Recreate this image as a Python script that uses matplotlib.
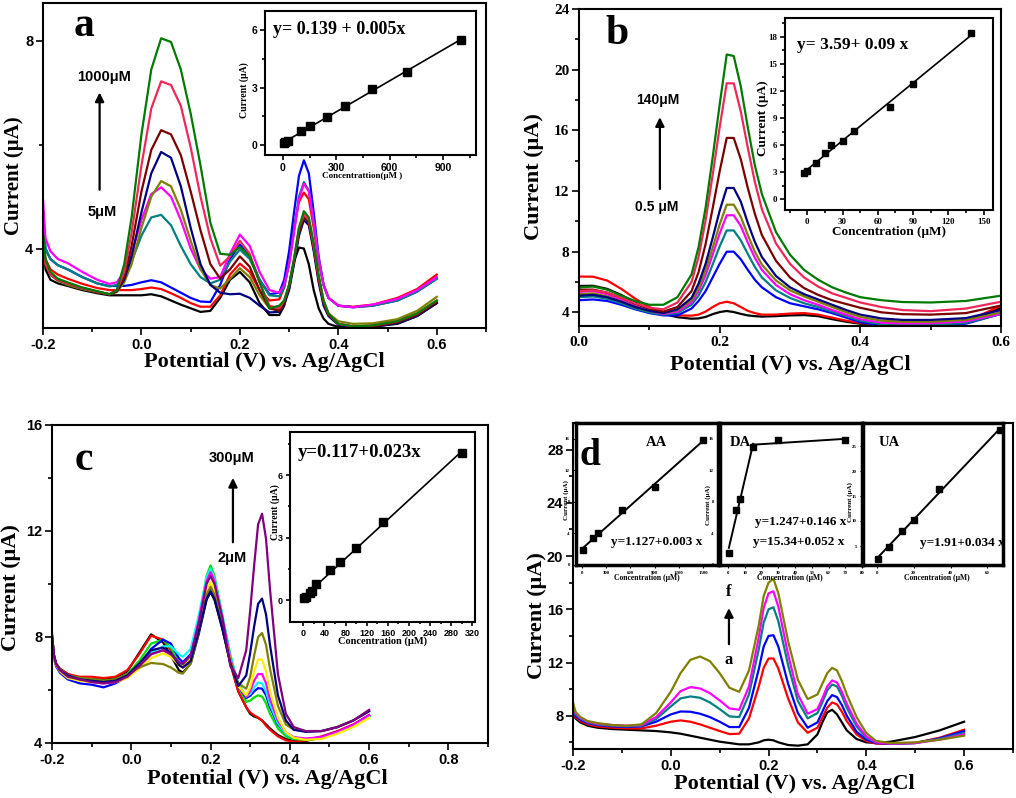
import numpy as np
import matplotlib
matplotlib.use("Agg")
import matplotlib.pyplot as plt

serif = "Liberation Serif"
sans = "Liberation Sans"

# ---------------- panel a : voltammograms ----------------
xa = [-0.2, -0.195, -0.185, -0.17, -0.15, -0.12, -0.09, -0.065, -0.05, -0.035, -0.02,
      0.0, 0.02, 0.04, 0.06, 0.08, 0.1, 0.12, 0.14, 0.16, 0.18, 0.2, 0.22, 0.24, 0.26,
      0.28, 0.29, 0.3, 0.31, 0.32, 0.33, 0.34, 0.35, 0.36, 0.37, 0.38, 0.4, 0.43, 0.47,
      0.52, 0.56, 0.6]
a_black = [4.4, 3.6, 3.4, 3.33, 3.28, 3.2, 3.14, 3.1, 3.1, 3.1, 3.1,
           3.1, 3.12, 3.08, 3.0, 2.92, 2.85, 2.78, 2.8, 3.05, 3.4, 3.55, 3.35, 2.95, 2.72,
           2.72, 2.9, 3.3, 3.75, 4.02, 4.0, 3.7, 3.2, 2.85, 2.65, 2.55, 2.49, 2.49, 2.5,
           2.55, 2.7, 2.95]
a_red = [4.5, 3.8, 3.6, 3.5, 3.42, 3.32, 3.24, 3.2, 3.2, 3.2, 3.2,
         3.22, 3.25, 3.22, 3.14, 3.05, 2.95, 2.88, 2.88, 3.1, 3.5, 3.71, 3.55, 3.2, 3.0,
         3.02, 3.25, 3.75, 4.4, 4.9, 5.08, 4.95, 4.4, 3.75, 3.3, 3.05, 2.9, 2.88, 2.92,
         3.05, 3.22, 3.5]
a_blue = [4.6, 4.0, 3.8, 3.68, 3.6, 3.45, 3.33, 3.28, 3.28, 3.28, 3.3,
          3.35, 3.39, 3.35, 3.25, 3.15, 3.05, 2.98, 2.97, 3.3, 3.8, 4.08, 3.85, 3.4, 3.12,
          3.15, 3.4, 3.95, 4.7, 5.4, 5.7, 5.45, 4.7, 3.85, 3.3, 3.05, 2.9, 2.87, 2.9,
          3.0, 3.17, 3.42]
a_teal = [4.7, 4.0, 3.8, 3.68, 3.6, 3.45, 3.33, 3.27, 3.3, 3.45, 3.75,
          4.25, 4.6, 4.65, 4.45, 4.05, 3.7, 3.45, 3.33, 3.4, 3.75, 3.98, 3.8, 3.4, 3.1,
          3.08, 3.25, 3.7, 4.35, 5.0, 5.28, 5.12, 4.5, 3.8, 3.3, 3.05, 2.9, 2.87, 2.9,
          3.0, 3.17, 3.42]
a_magenta = [4.95, 4.2, 3.95, 3.8, 3.72, 3.55, 3.4, 3.32, 3.35, 3.55, 3.9,
             4.55, 5.05, 5.18, 5.0, 4.55, 4.0, 3.6, 3.42, 3.45, 3.9, 4.27, 4.05, 3.55, 3.2,
             3.15, 3.3, 3.7, 4.3, 4.95, 5.25, 5.1, 4.5, 3.8, 3.3, 3.05, 2.9, 2.87, 2.92,
             3.03, 3.2, 3.45]
a_olive = [4.2, 3.7, 3.5, 3.38, 3.3, 3.22, 3.16, 3.12, 3.16, 3.35, 3.7,
           4.4, 5.0, 5.3, 5.2, 4.75, 4.15, 3.6, 3.3, 3.23, 3.42, 3.62, 3.45, 3.1, 2.85,
           2.82, 2.95, 3.25, 3.75, 4.3, 4.62, 4.52, 4.0, 3.4, 2.95, 2.75, 2.6, 2.55, 2.56,
           2.64, 2.8, 3.07]
a_navy = [4.1, 3.7, 3.5, 3.4, 3.33, 3.24, 3.17, 3.12, 3.18, 3.4, 3.85,
          4.7, 5.45, 5.86, 5.75, 5.2, 4.4, 3.7, 3.3, 3.15, 3.12, 3.13, 3.05, 2.9, 2.77,
          2.78, 2.92, 3.2, 3.7, 4.25, 4.55, 4.45, 3.95, 3.35, 2.9, 2.7, 2.53, 2.49, 2.49,
          2.56, 2.7, 2.95]
a_brown = [4.2, 3.7, 3.5, 3.4, 3.33, 3.24, 3.17, 3.12, 3.18, 3.45, 4.05,
           5.1, 5.9, 6.28, 6.2, 5.8, 5.1, 4.35, 3.7, 3.42, 3.6, 3.85, 3.65, 3.2, 2.85,
           2.8, 2.95, 3.25, 3.75, 4.3, 4.6, 4.5, 4.0, 3.4, 2.95, 2.72, 2.55, 2.5, 2.5,
           2.58, 2.72, 2.97]
a_crimson = [4.1, 3.7, 3.5, 3.4, 3.33, 3.24, 3.17, 3.12, 3.2, 3.55, 4.3,
             5.6, 6.7, 7.22, 7.15, 6.75, 5.95, 5.0, 4.2, 3.67, 3.85, 4.15, 3.9, 3.35, 2.9,
             2.85, 3.0, 3.3, 3.8, 4.4, 4.65, 4.55, 4.05, 3.45, 3.0, 2.75, 2.55, 2.5, 2.52,
             2.6, 2.75, 3.0]
a_green = [4.3, 3.8, 3.55, 3.42, 3.35, 3.25, 3.18, 3.12, 3.2, 3.7, 4.6,
           6.2, 7.45, 8.05, 7.98, 7.45, 6.6, 5.6, 4.5, 3.9, 3.88, 4.03, 3.85, 3.35, 2.85,
           2.9, 3.0, 3.3, 3.8, 4.4, 4.72, 4.6, 4.1, 3.5, 3.0, 2.75, 2.55, 2.5, 2.52,
           2.6, 2.75, 3.0]

# inset a : calibration
ia_conc = [5, 15, 30, 100, 150, 250, 350, 500, 700, 1000]
ia_cur = [0.12, 0.16, 0.2, 0.72, 0.97, 1.45, 2.02, 2.92, 3.82, 5.5]

# ---------------- panel b ----------------
xb = [0.0, 0.02, 0.04, 0.06, 0.08, 0.1, 0.12, 0.14, 0.16, 0.17, 0.18, 0.19, 0.2, 0.21,
      0.22, 0.23, 0.24, 0.25, 0.26, 0.28, 0.3, 0.32, 0.34, 0.36, 0.38, 0.4, 0.43, 0.46,
      0.5, 0.55, 0.6]
b_black = [5.74, 5.75, 5.55, 5.15, 4.65, 4.2, 3.9, 3.68, 3.58, 3.6, 3.7, 3.88, 4.02, 4.09,
           4.02, 3.9, 3.8, 3.75, 3.72, 3.75, 3.8, 3.82, 3.75, 3.55, 3.38, 3.25, 3.15, 3.12,
           3.15, 3.35, 4.3]
b_red = [6.36, 6.35, 6.1, 5.55, 4.9, 4.35, 4.0, 3.8, 3.78, 3.85, 4.05, 4.35, 4.6, 4.7,
         4.6, 4.35, 4.1, 3.95, 3.85, 3.85, 3.92, 3.95, 3.85, 3.65, 3.45, 3.3, 3.18, 3.15,
         3.18, 3.35, 4.45]
b_blue = [4.8, 4.85, 4.75, 4.5, 4.2, 3.95, 3.8, 3.8, 4.25, 4.75, 5.4, 6.3, 7.2, 8.0,
          8.0, 7.5, 6.8, 6.15, 5.65, 5.0, 4.6, 4.4, 4.2, 3.95, 3.65, 3.35, 3.15, 3.1,
          3.12, 3.25, 3.9]
b_teal = [5.0, 5.05, 4.9, 4.6, 4.25, 4.0, 3.85, 3.95, 4.5, 5.1, 6.0, 7.15, 8.35, 9.4,
          9.4, 8.75, 7.85, 7.0, 6.3, 5.45, 4.95, 4.6, 4.35, 4.05, 3.75, 3.45, 3.22, 3.17,
          3.18, 3.3, 3.9]
b_magenta = [5.35, 5.4, 5.2, 4.8, 4.4, 4.1, 3.9, 4.05, 4.65, 5.4, 6.45, 7.8, 9.2, 10.4,
             10.4, 9.7, 8.6, 7.6, 6.8, 5.8, 5.2, 4.8, 4.5, 4.15, 3.85, 3.55, 3.32, 3.27,
             3.28, 3.4, 3.9]
b_olive = [5.2, 5.25, 5.05, 4.7, 4.35, 4.1, 3.95, 4.15, 4.8, 5.6, 6.8, 8.25, 9.8, 11.1,
           11.1, 10.3, 9.1, 8.0, 7.15, 6.1, 5.45, 5.05, 4.7, 4.35, 4.0, 3.7, 3.45, 3.38,
           3.38, 3.5, 4.0]
b_navy = [5.1, 5.15, 5.0, 4.7, 4.35, 4.1, 3.95, 4.2, 4.95, 5.9, 7.2, 8.9, 10.7, 12.2,
          12.2, 11.3, 9.9, 8.65, 7.65, 6.4, 5.65, 5.2, 4.85, 4.5, 4.15, 3.85, 3.6, 3.5,
          3.5, 3.62, 4.15]
b_brown = [5.5, 5.5, 5.3, 4.95, 4.55, 4.25, 4.05, 4.35, 5.4, 6.65, 8.5, 10.85, 13.3, 15.5,
           15.5, 14.1, 12.2, 10.5, 9.1, 7.4, 6.3, 5.6, 5.15, 4.8, 4.55, 4.3, 4.0, 3.88,
           3.85, 3.95, 4.45]
b_crimson = [5.4, 5.45, 5.3, 4.95, 4.6, 4.3, 4.2, 4.65, 6.0, 7.65, 10.05, 13.05, 16.2, 19.1,
             19.1, 17.25, 14.85, 12.6, 10.8, 8.55, 7.2, 6.3, 5.7, 5.25, 4.95, 4.65, 4.35,
             4.15, 4.08, 4.25, 4.7]
b_green = [5.65, 5.7, 5.5, 5.1, 4.75, 4.5, 4.5, 5.0, 6.5, 8.3, 10.9, 14.2, 17.7, 21.0,
           20.9, 18.9, 16.2, 13.7, 11.8, 9.3, 7.8, 6.8, 6.15, 5.65, 5.3, 5.0, 4.8, 4.68,
           4.65, 4.75, 5.1]

ib_conc = [-2.5, -0.5, 7, 15, 20, 30, 40, 70, 90, 139]
ib_cur = [2.93, 3.1, 3.96, 5.07, 6.0, 6.5, 7.6, 10.2, 12.8, 18.4]

# ---------------- panel c ----------------
xc = [-0.2, -0.195, -0.19, -0.18, -0.16, -0.13, -0.1, -0.07, -0.04, -0.01,
      0.02, 0.05, 0.08, 0.1, 0.12, 0.13, 0.15, 0.17, 0.19, 0.2,
      0.21, 0.23, 0.25, 0.27, 0.29, 0.3, 0.31, 0.32, 0.33, 0.34,
      0.35, 0.37, 0.39, 0.41, 0.44, 0.48, 0.52, 0.56, 0.6]
c_black = [8.1, 7.3, 7.0, 6.8, 6.6, 6.45, 6.4, 6.4, 6.45, 6.7,
           7.4, 8.1, 7.8, 7.3, 6.75, 6.65, 7.0, 8.1, 9.4, 9.7,
           9.4, 8.3, 7.0, 5.95, 5.35, 5.1, 5.0, 4.95, 4.85, 4.7,
           4.55, 4.3, 4.15, 4.08, 4.08, 4.2, 4.4, 4.65, 5.0]
c_red = [8.0, 7.3, 7.0, 6.8, 6.6, 6.5, 6.5, 6.45, 6.5, 6.75,
         7.35, 8.05, 7.9, 7.5, 6.95, 6.85, 7.1, 8.2, 9.55, 9.85,
         9.55, 8.4, 7.0, 5.95, 5.35, 5.15, 5.05, 4.95, 4.85, 4.65,
         4.5, 4.25, 4.1, 4.05, 4.1, 4.25, 4.45, 4.7, 5.05]
c_green = [8.0, 7.3, 7.0, 6.75, 6.55, 6.45, 6.4, 6.35, 6.4, 6.6,
           7.1, 7.75, 7.9, 7.6, 7.05, 6.95, 7.3, 8.6, 10.3, 10.7,
           10.3, 8.8, 7.3, 6.15, 5.55, 5.6, 5.72, 5.8, 5.75, 5.5,
           5.1, 4.55, 4.25, 4.15, 4.12, 4.2, 4.4, 4.65, 5.0]
c_blue = [8.0, 7.2, 6.9, 6.65, 6.4, 6.25, 6.2, 6.1, 6.25, 6.5,
          6.95, 7.55, 7.9, 7.75, 7.2, 7.05, 7.35, 8.4, 9.6, 9.85,
          9.55, 8.4, 7.1, 6.15, 5.7, 5.78, 5.95, 6.07, 6.05, 5.8,
          5.35, 4.7, 4.35, 4.2, 4.15, 4.22, 4.42, 4.68, 5.05]
c_cyan = [8.0, 7.3, 7.0, 6.75, 6.5, 6.4, 6.35, 6.3, 6.35, 6.55,
          6.95, 7.4, 7.65, 7.65, 7.35, 7.25, 7.55, 8.8, 10.25, 10.58,
          10.2, 8.8, 7.3, 6.25, 5.75, 5.85, 6.1, 6.28, 6.25, 5.95,
          5.45, 4.75, 4.35, 4.2, 4.15, 4.2, 4.4, 4.65, 5.0]
c_magenta = [8.05, 7.3, 7.0, 6.75, 6.5, 6.4, 6.3, 6.25, 6.3, 6.5,
             6.9, 7.35, 7.5, 7.35, 7.05, 6.98, 7.3, 8.6, 10.1, 10.45,
             10.1, 8.7, 7.2, 6.15, 5.75, 5.95, 6.35, 6.6, 6.6, 6.25,
             5.65, 4.85, 4.4, 4.22, 4.17, 4.22, 4.42, 4.68, 5.05]
c_yellow = [8.0, 7.2, 6.95, 6.7, 6.45, 6.35, 6.3, 6.3, 6.3, 6.45,
            6.8, 7.2, 7.38, 7.25, 6.95, 6.9, 7.2, 8.4, 9.8, 10.07,
            9.75, 8.5, 7.1, 6.15, 5.8, 6.1, 6.7, 7.15, 7.15, 6.7,
            5.95, 4.95, 4.4, 4.2, 4.12, 4.15, 4.35, 4.6, 4.95]
c_olive = [8.1, 7.3, 7.0, 6.75, 6.55, 6.45, 6.4, 6.35, 6.4, 6.6,
           6.85, 7.02, 6.98, 6.85, 6.65, 6.62, 7.0, 8.2, 9.6, 9.9,
           9.6, 8.4, 7.1, 6.25, 6.05, 6.5, 7.3, 8.0, 8.15, 7.7,
           6.8, 5.4, 4.7, 4.5, 4.45, 4.45, 4.6, 4.85, 5.2]
c_navy = [8.05, 7.3, 7.0, 6.75, 6.55, 6.4, 6.35, 6.3, 6.35, 6.55,
          7.0, 7.5, 7.6, 7.4, 6.95, 6.85, 7.1, 8.2, 9.45, 9.7,
          9.45, 8.3, 7.0, 6.15, 6.55, 7.4, 8.4, 9.25, 9.45, 8.85,
          7.7, 5.8, 4.85, 4.5, 4.42, 4.45, 4.6, 4.85, 5.2]
c_purple = [8.0, 7.3, 7.0, 6.75, 6.5, 6.4, 6.3, 6.25, 6.3, 6.5,
            6.9, 7.35, 7.5, 7.35, 7.05, 6.98, 7.3, 8.5, 10.0, 10.3,
            10.0, 8.7, 6.9, 6.45, 7.5, 9.0, 10.7, 12.25, 12.65, 11.7,
            9.8, 6.6, 5.1, 4.6, 4.45, 4.45, 4.6, 4.85, 5.25]

ic_conc = [2, 6, 12, 16, 25, 50, 70, 100, 150, 300]
ic_cur = [0.08, 0.16, 0.35, 0.45, 0.77, 1.44, 1.84, 2.48, 3.76, 7.04]

# ---------------- panel d ----------------
xd = [-0.2, -0.195, -0.185, -0.17, -0.15, -0.12, -0.09, -0.06, -0.03, 0.0,
      0.02, 0.04, 0.06, 0.08, 0.1, 0.12, 0.14, 0.16, 0.18, 0.19,
      0.2, 0.21, 0.22, 0.24, 0.26, 0.28, 0.3, 0.31, 0.32, 0.33,
      0.34, 0.35, 0.36, 0.38, 0.4, 0.42, 0.45, 0.5, 0.55, 0.6]
d_black = [8.4, 7.8, 7.5, 7.25, 7.1, 7.0, 6.95, 6.9, 6.85, 6.75,
           6.65, 6.5, 6.35, 6.2, 6.05, 5.95, 5.85, 5.85, 6.0, 6.15,
           6.2, 6.15, 6.0, 5.8, 5.75, 5.85, 6.6, 7.5, 8.25, 8.45,
           8.1, 7.5, 6.9, 6.25, 6.0, 5.95, 6.05, 6.4, 6.9, 7.55]
d_red = [8.5, 7.9, 7.6, 7.35, 7.2, 7.1, 7.05, 7.05, 7.25, 7.55,
         7.65, 7.55, 7.35, 7.1, 6.85, 6.62, 6.65, 7.8, 10.2, 11.6,
         12.3, 12.3, 11.55, 9.3, 7.5, 6.72, 7.1, 7.85, 8.6, 9.0,
         8.85, 8.3, 7.6, 6.6, 6.1, 5.9, 5.88, 5.95, 6.35, 6.95]
d_blue = [8.6, 8.0, 7.7, 7.45, 7.3, 7.2, 7.15, 7.2, 7.55, 8.1,
          8.32, 8.3, 8.15, 7.9, 7.55, 7.15, 7.15, 8.6, 11.5, 13.2,
          14.0, 14.05, 13.2, 10.4, 8.2, 7.1, 7.5, 8.3, 9.1, 9.55,
          9.4, 8.8, 8.0, 6.8, 6.2, 5.95, 5.9, 5.95, 6.3, 6.85]
d_teal = [8.7, 8.1, 7.8, 7.5, 7.35, 7.25, 7.2, 7.25, 7.75, 8.7,
          9.3, 9.45, 9.35, 9.0, 8.5, 7.95, 7.9, 9.6, 13.0, 15.0,
          16.0, 16.15, 15.1, 11.8, 9.1, 7.8, 8.2, 9.0, 9.9, 10.35,
          10.2, 9.5, 8.6, 7.2, 6.35, 6.0, 5.9, 5.95, 6.25, 6.7]
d_magenta = [8.8, 8.2, 7.85, 7.55, 7.4, 7.3, 7.25, 7.3, 7.9, 9.0,
             9.85, 10.15, 10.05, 9.7, 9.15, 8.55, 8.45, 10.2, 13.9, 16.1,
             17.2, 17.35, 16.2, 12.6, 9.6, 8.15, 8.5, 9.3, 10.2, 10.65,
             10.5, 9.8, 8.9, 7.4, 6.45, 6.0, 5.9, 5.95, 6.2, 6.6]
d_olive = [9.0, 8.3, 7.9, 7.6, 7.45, 7.3, 7.25, 7.35, 8.2, 9.8,
           11.2, 12.2, 12.45, 12.1, 11.2, 10.1, 9.8, 11.4, 14.8, 17.0,
           18.0, 18.3, 17.2, 13.6, 10.7, 9.25, 9.6, 10.4, 11.2, 11.6,
           11.4, 10.6, 9.6, 7.9, 6.7, 6.1, 5.95, 6.0, 6.2, 6.5]

aa_conc = [10, 140, 200, 500, 900, 1500]
aa_cur = [1.85, 3.4, 4.0, 7.0, 9.9, 15.8]
da_conc = [0.5, 5, 7, 15, 30, 70]
da_cur = [1.5, 7.0, 8.4, 15.0, 15.8, 15.9]
ua_conc = [0.5, 6.5, 13.5, 20, 34, 67]
ua_cur = [2.4, 4.8, 8.0, 10.2, 16.4, 28.2]

GREEN = "#007a00"
CRIMSON = "#f0285a"
BROWN = "#7a0000"
NAVY = "#000080"
OLIVE = "#808000"
TEAL = "#008080"
PURPLE = "#800080"

fig = plt.figure(figsize=(10.16, 7.98), dpi=100)


def style(ax, lw=1.5, tl=5, tw=1.2):
    for s in ax.spines.values():
        s.set_linewidth(lw)
    ax.tick_params(which="both", direction="out", top=False, right=False, width=tw)
    ax.tick_params(which="major", length=tl)
    ax.tick_params(which="minor", length=tl * 0.6)


def ticks(ax, xt, xl, yt, yl, xm, ym, fam, fs):
    ax.set_xticks(xt, xl, fontfamily=fam, fontweight="bold", fontsize=fs)
    ax.set_yticks(yt, yl, fontfamily=fam, fontweight="bold", fontsize=fs)
    ax.set_xticks(xm, minor=True)
    ax.set_yticks(ym, minor=True)
    ax.tick_params(which="major", pad=2)


def labels(ax, fs, xc, yc, xs="Potential (V) vs. Ag/AgCl", ys="Current (\u03bcA)"):
    ax.set_xlabel(xs, fontfamily=serif, fontweight="bold", fontsize=fs[0], va="top")
    ax.set_ylabel(ys, fontfamily=serif, fontweight="bold", fontsize=fs[1], va="bottom")
    ax.xaxis.set_label_coords(*xc)
    ax.yaxis.set_label_coords(*yc)


def btext(ax, x, y, s, fs, fam=serif, ha="left"):
    ax.text(x, y, s, transform=ax.transAxes, fontsize=fs, fontweight="bold",
            fontfamily=fam, ha=ha, va="center")


def arrow(ax, x, y0, y1):
    ax.annotate("", xy=(x, y1), xytext=(x, y0),
                arrowprops=dict(arrowstyle="-|>", color="k", lw=1.6, mutation_scale=13))


pot = ["-0.2", "0.0", "0.2", "0.4", "0.6"]

# ---------------- a ----------------
ax = fig.add_axes([43 / 1016, 1 - 328 / 798, 443 / 1016, 325 / 798])
for y, c in [(a_black, "k"), (a_red, "red"), (a_blue, "blue"), (a_teal, TEAL),
             (a_magenta, "magenta"), (a_olive, OLIVE), (a_navy, NAVY), (a_brown, BROWN),
             (a_crimson, CRIMSON), (a_green, GREEN)]:
    ax.plot(xa, y, color=c, lw=1.6)
ax.set_xlim(-0.2, 0.7)
ax.set_ylim(2.47, 8.73)
style(ax)
ticks(ax, [-0.2, 0.0, 0.2, 0.4, 0.6], pot, [4, 8], ["4", "8"],
      [-0.1, 0.1, 0.3, 0.5, 0.7], [6], sans, 10.5)
labels(ax, (16, 15), (0.5, -0.075), (-0.044, 0.47))
btext(ax, 0.07, 0.93, "a", 30)
arrow(ax, -0.085, 5.08, 7.06)
ax.text(-0.075, 7.3, "1000\u03bcM", fontsize=10.5, fontweight="bold", fontfamily=sans,
        ha="center", va="center")
ax.text(-0.079, 4.71, "5\u03bcM", fontsize=10.5, fontweight="bold", fontfamily=sans,
        ha="center", va="center")

ia = fig.add_axes([265 / 1016, 1 - 155 / 798, 211 / 1016, 144 / 798])
coef = np.polyfit(ia_conc, ia_cur, 1)
ia.plot([ia_conc[0], ia_conc[-1]], np.polyval(coef, [ia_conc[0], ia_conc[-1]]), "k-", lw=1.2)
ia.plot(ia_conc, ia_cur, "ks", ms=5.5)
ia.set_xlim(-100, 1085)
ia.set_ylim(-0.52, 7.0)
style(ia, lw=1.5, tl=3.5)
ticks(ia, [0, 300, 600, 900], ["0", "300", "600", "900"], [0, 3, 6], ["0", "3", "6"],
      [150, 450, 750, 1050], [1.5, 4.5], sans, 7.5)
labels(ia, (6.5, 7), (0.46, -0.12), (-0.075, 0.45),
       xs="Concentrattion(\u03bcM )", ys="Current (\u03bcA)")
btext(ia, 0.04, 0.87, "y= 0.139 + 0.005x", 13)

# ---------------- b ----------------
ax = fig.add_axes([579 / 1016, 1 - 326 / 798, 422 / 1016, 317 / 798])
for y, c in [(b_black, "k"), (b_red, "red"), (b_blue, "blue"), (b_teal, TEAL),
             (b_magenta, "magenta"), (b_olive, OLIVE), (b_navy, NAVY), (b_brown, BROWN),
             (b_crimson, CRIMSON), (b_green, GREEN)]:
    ax.plot(xb, y, color=c, lw=1.6)
ax.set_xlim(0, 0.6)
ax.set_ylim(3.1, 24)
style(ax)
ticks(ax, [0, 0.2, 0.4, 0.6], ["0.0", "0.2", "0.4", "0.6"],
      [4, 8, 12, 16, 20, 24], ["4", "8", "12", "16", "20", "24"],
      [0.1, 0.3, 0.5], [6, 10, 14, 18, 22], serif, 11)
labels(ax, (16, 16), (0.5, -0.09), (-0.082, 0.47))
btext(ax, 0.062, 0.92, "b", 30)
arrow(ax, 0.115, 11.95, 17.05)
ax.text(0.112, 18.0, "140\u03bcM", fontsize=10, fontweight="bold", fontfamily=sans,
        ha="center", va="center")
ax.text(0.111, 10.95, "0.5 \u03bcM", fontsize=10, fontweight="bold", fontfamily=sans,
        ha="center", va="center")

ib = fig.add_axes([785 / 1016, 1 - 210 / 798, 208 / 1016, 192 / 798])
coef = np.polyfit(ib_conc, ib_cur, 1)
ib.plot([ib_conc[0], ib_conc[-1]], np.polyval(coef, [ib_conc[0], ib_conc[-1]]), "k-", lw=1.2)
ib.plot(ib_conc, ib_cur, "ks", ms=4.5)
ib.set_xlim(-19, 158)
ib.set_ylim(-1.2, 20.1)
style(ib, lw=1.5, tl=3.5)
ticks(ib, [0, 30, 60, 90, 120, 150], ["0", "30", "60", "90", "120", "150"],
      [0, 3, 6, 9, 12, 15, 18], ["0", "3", "6", "9", "12", "15", "18"],
      [-15, 15, 45, 75, 105, 135], [1.5, 4.5, 7.5, 10.5, 13.5, 16.5, 19.5], serif, 6.5)
labels(ib, (9.5, 9.5), (0.5, -0.082), (-0.075, 0.48),
       xs="Concentration (\u03bcM)", ys="Current (\u03bcA)")
btext(ib, 0.058, 0.86, "y= 3.59+ 0.09 x", 12.5)

# ---------------- c ----------------
ax = fig.add_axes([52 / 1016, 1 - 743 / 798, 436 / 1016, 318 / 798])
for y, c in [(c_black, "k"), (c_red, "red"), (c_green, "#00e000"), (c_blue, "blue"),
             (c_cyan, "cyan"), (c_magenta, "magenta"), (c_yellow, "#ffee00"),
             (c_olive, OLIVE), (c_navy, NAVY), (c_purple, PURPLE)]:
    ax.plot(xc, y, color=c, lw=1.6)
ax.set_xlim(-0.2, 0.9)
ax.set_ylim(4, 16)
style(ax)
ticks(ax, [-0.2, 0.0, 0.2, 0.4, 0.6, 0.8], pot + ["0.8"], [4, 8, 12, 16],
      ["4", "8", "12", "16"], [-0.1, 0.1, 0.3, 0.5, 0.7, 0.9], [6, 10, 14], sans, 10.5)
labels(ax, (16, 16), (0.494, -0.083), (-0.07, 0.49))
btext(ax, 0.053, 0.89, "c", 30)
arrow(ax, 0.2565, 11.47, 14.11)
ax.text(0.254, 14.75, "300\u03bcM", fontsize=10.5, fontweight="bold", fontfamily=sans,
        ha="center", va="center")
ax.text(0.254, 10.98, "2\u03bcM", fontsize=10.5, fontweight="bold", fontfamily=sans,
        ha="center", va="center")

ic = fig.add_axes([290 / 1016, 1 - 622 / 798, 185 / 1016, 190 / 798])
coef = np.polyfit(ic_conc, ic_cur, 1)
ic.plot([ic_conc[0], ic_conc[-1]], np.polyval(coef, [ic_conc[0], ic_conc[-1]]), "k-", lw=1.2)
ic.plot(ic_conc, ic_cur, "ks", ms=5.5)
ic.set_xlim(-25, 325)
ic.set_ylim(-1.05, 8.07)
style(ic, lw=1.5, tl=3)
ct = [0, 40, 80, 120, 160, 200, 240, 280, 320]
ticks(ic, ct, [str(t) for t in ct], [0, 3, 6], ["0", "3", "6"],
      [20, 60, 100, 140, 180, 220, 260, 300], [1.5, 4.5, 7.5], sans, 6.5)
labels(ic, (7.5, 7), (0.5, -0.075), (-0.055, 0.58),
       xs="Concentration (\u03bcM)", ys="Current (\u03bcA)")
btext(ic, 0.043, 0.89, "y=0.117+0.023x", 13.5)

# ---------------- d ----------------
ax = fig.add_axes([573 / 1016, 1 - 749 / 798, 440 / 1016, 326 / 798])
for y, c in [(d_black, "k"), (d_red, "red"), (d_blue, "blue"), (d_teal, TEAL),
             (d_magenta, "magenta"), (d_olive, OLIVE)]:
    ax.plot(xd, y, color=c, lw=1.6)
ax.set_xlim(-0.2, 0.7)
ax.set_ylim(5.5, 30)
style(ax)
ticks(ax, [-0.2, 0.0, 0.2, 0.4, 0.6], pot, [8, 12, 16, 20, 24, 28],
      ["8", "12", "16", "20", "24", "28"], [-0.1, 0.1, 0.3, 0.5, 0.7],
      [6, 10, 14, 18, 22, 26], sans, 10.5)
labels(ax, (16, 16), (0.502, -0.078), (-0.06, 0.41))
arrow(ax, 0.119, 13.17, 16.3)
ax.text(0.119, 17.3, "f", fontsize=12, fontweight="bold", fontfamily=serif,
        ha="center", va="center")
ax.text(0.119, 12.2, "a", fontsize=12, fontweight="bold", fontfamily=serif,
        ha="center", va="center")

conc_lab = "Concentration (\u03bcM)"
cur_lab = "Current (\u03bcA)"

aa = fig.add_axes([576 / 1016, 1 - 565 / 798, 142 / 1016, 142 / 798])
coef = np.polyfit(aa_conc, aa_cur, 1)
aa.plot([aa_conc[0], aa_conc[-1]], np.polyval(coef, [aa_conc[0], aa_conc[-1]]), "k-", lw=1.4)
aa.plot(aa_conc, aa_cur, "ks", ms=4)
aa.set_xlim(-74, 1686)
aa.set_ylim(0, 18)
style(aa, lw=2.5, tl=2.5, tw=0.8)
at = [0, 300, 600, 900, 1200, 1500]
ticks(aa, at, [str(t) for t in at], [0, 4, 8, 12, 16], ["0", "4", "8", "12", "16"],
      [], [], serif, 3.5)
labels(aa, (5.5, 5), (0.5, -0.065), (-0.05, 0.46), xs=conc_lab, ys=cur_lab)
btext(aa, 0.57, 0.86, "AA", 10.5, ha="center")
btext(aa, 0.57, 0.16, "y=1.127+0.003 x", 9.5, ha="center")
btext(aa, 0.1, 0.77, "d", 27, ha="center")

da = fig.add_axes([720 / 1016, 1 - 565 / 798, 142 / 1016, 142 / 798])
c1 = np.polyfit(da_conc[:4], da_cur[:4], 1)
c2 = np.polyfit(da_conc[3:], da_cur[3:], 1)
da.plot([da_conc[0], da_conc[3]], np.polyval(c1, [da_conc[0], da_conc[3]]), "k-", lw=1.4)
da.plot([da_conc[3], da_conc[-1]], np.polyval(c2, [da_conc[3], da_conc[-1]]), "k-", lw=1.4)
da.plot(da_conc, da_cur, "ks", ms=4)
da.set_xlim(-4.8, 80)
da.set_ylim(0, 18)
style(da, lw=2.5, tl=2.5, tw=0.8)
dt = [0, 10, 20, 30, 40, 50, 60, 70, 80]
ticks(da, dt, [str(t) for t in dt], [0, 4, 8, 12, 16], ["0", "4", "8", "12", "16"],
      [], [], serif, 3.5)
labels(da, (5.5, 5), (0.49, -0.065), (-0.06, 0.42), xs=conc_lab, ys=cur_lab)
btext(da, 0.14, 0.86, "DA", 10.5, ha="center")
btext(da, 0.57, 0.30, "y=1.247+0.146 x", 9.5, ha="center")
btext(da, 0.555, 0.16, "y=15.34+0.052 x", 9.5, ha="center")

ua = fig.add_axes([863 / 1016, 1 - 565 / 798, 140 / 1016, 142 / 798])
coef = np.polyfit(ua_conc, ua_cur, 1)
ua.plot([ua_conc[0], ua_conc[-1]], np.polyval(coef, [ua_conc[0], ua_conc[-1]]), "k-", lw=1.4)
ua.plot(ua_conc, ua_cur, "ks", ms=4)
style(ua, lw=2.5, tl=2.5, tw=0.8)
ut = [-10, 0, 20, 40, 60]
ticks(ua, ut, ["10", "0", "20", "40", "60"], [5, 10, 15, 20, 25], ["5", "10", "15", "20", "25"],
      [], [], serif, 3.5)
ua.set_xlim(-7.5, 68.5)
ua.set_ylim(1.2, 29.6)
labels(ua, (5.5, 5), (0.53, -0.065), (-0.07, 0.44), xs=conc_lab, ys=cur_lab)
btext(ua, 0.19, 0.86, "UA", 10.5, ha="center")
btext(ua, 0.71, 0.155, "y=1.91+0.034 x", 9.5, ha="center")

fig.savefig("out.png", dpi=100)
